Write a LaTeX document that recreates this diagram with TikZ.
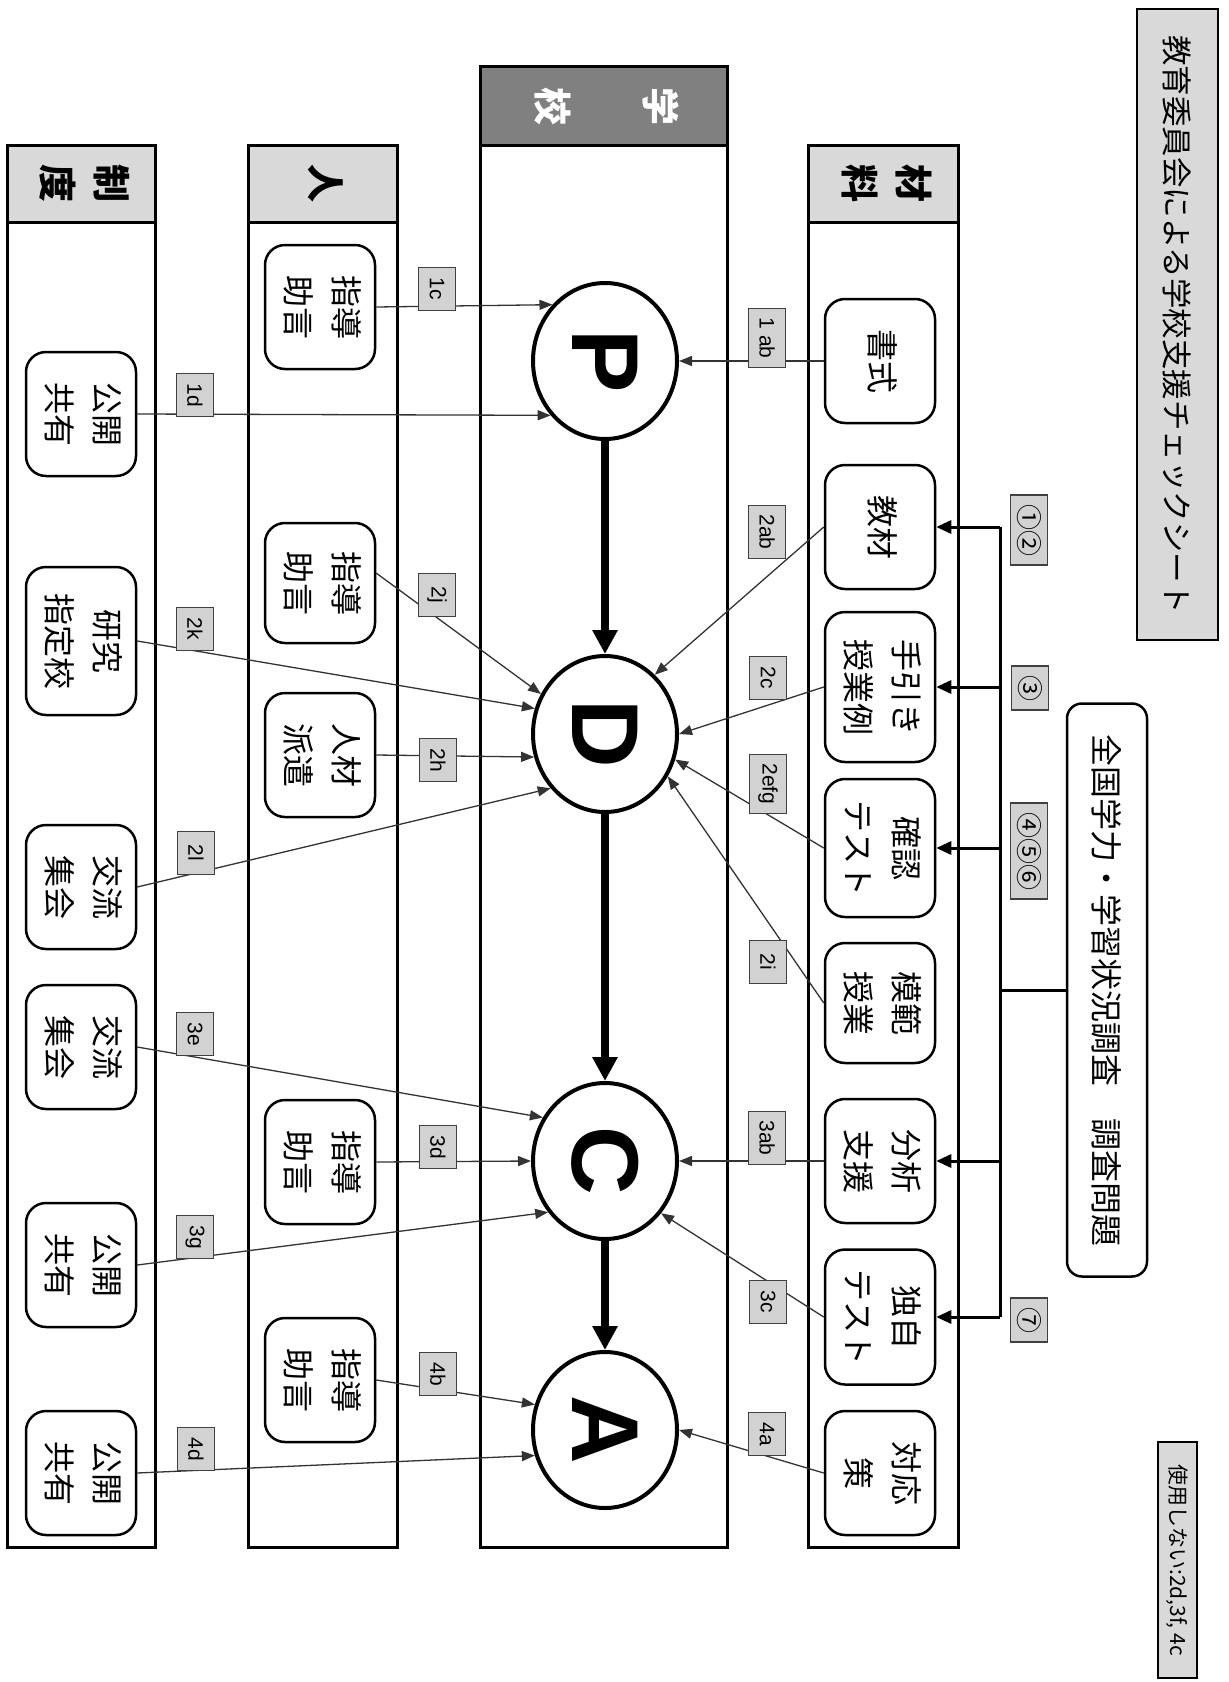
\documentclass[tikz,border=0pt]{standalone}
\usepackage{fontspec}
\usepackage{graphicx}
\usetikzlibrary{arrows.meta,shapes.geometric}
\newfontfamily\jp{Noto Sans CJK JP}
\newfontfamily\lat{Liberation Sans}
\newcommand{\vt}[1]{\rotatebox{-90}{\begin{tabular}{@{}c@{}}#1\end{tabular}}}
\definecolor{hdrgray}{RGB}{217,217,217}
\definecolor{darkhdr}{RGB}{128,128,128}
\definecolor{taggray}{RGB}{210,210,210}
\tikzset{
  lanebox/.style={draw=black, line width=3pt},
  hdrbox/.style={draw=black, line width=3pt, fill=hdrgray},
  hdrtext/.style={inner sep=0pt, font=\jp\bfseries\fontsize{38}{54}\selectfont},
  item/.style={draw=black, line width=2.5pt, rounded corners=20pt, fill=white,
    minimum width=110pt, minimum height=124pt, inner sep=0pt,
    font=\jp\fontsize{32}{48}\selectfont},
  phase/.style={ellipse, draw=black, line width=4pt, fill=white,
    minimum width=144pt, minimum height=156pt, inner sep=0pt,
    font=\lat\bfseries\fontsize{95}{95}\selectfont},
  tag/.style={draw=black!75, line width=1.2pt, fill=taggray,
    minimum width=37pt, minimum height=43pt, inner xsep=0pt, inner ysep=9pt,
    font=\lat\fontsize{21}{21}\selectfont},
  ctag/.style={draw=black!75, line width=1.2pt, fill=taggray,
    minimum width=37pt, minimum height=44pt, inner xsep=0pt, inner ysep=9pt,
    font=\jp\fontsize{26}{26}\selectfont},
  link/.style={draw=black!80, line width=1.3pt, -{Triangle[length=13pt,width=10pt]}},
  flow/.style={draw=black, line width=8pt, -{Triangle[length=24pt,width=24pt]}},
  bus/.style={draw=black, line width=3pt},
  busarrow/.style={draw=black, line width=3pt, -{Triangle[length=15pt,width=13pt]}},
}
\begin{document}
\begin{tikzpicture}[x=1pt,y=-1pt]
\useasboundingbox (0,0) rectangle (1229,1682);
\fill[white] (0,0) rectangle (1229,1682);

% lanes
\draw[lanebox] (7,145) rectangle (155,1547);
\draw[hdrbox] (7,145) rectangle (155,222);
\node[hdrtext] (hsys) at (81,183) {\vt{制\\度}};

\draw[lanebox] (248,145) rectangle (397,1547);
\draw[hdrbox] (248,145) rectangle (397,222);
\node[hdrtext] (hppl) at (322,183) {\vt{人}};

\draw[lanebox] (480,66) rectangle (727,1547);
\draw[hdrbox, fill=darkhdr] (480,66) rectangle (727,145);
\node[hdrtext, text=white] (hsch) at (603,106) {\vt{学\\ \\校}};

\draw[lanebox] (808,145) rectangle (958,1547);
\draw[hdrbox] (808,145) rectangle (958,222);
\node[hdrtext] (hmat) at (883,183) {\vt{材\\料}};

% title and note
\node[draw=black, line width=2pt, fill=hdrgray, minimum width=81pt, minimum height=631pt,
  inner sep=0pt, font=\jp\fontsize{30.5}{30.5}\selectfont] (title) at (1177.5,324.5)
  {\rotatebox{-90}{教育委員会による学校支援チェックシート}};
\node[draw=black, line width=2pt, fill=hdrgray, minimum width=39pt, minimum height=236pt,
  inner sep=0pt, font=\jp\fontsize{21}{21}\selectfont] (unused) at (1177.5,1560)
  {\rotatebox{-90}{使用しない:2d,3f, 4c}};

% PDCA
\node[phase] (P) at (605,361) {\rotatebox{-90}{P}};
\node[phase] (D) at (605,734) {\rotatebox{-90}{D}};
\node[phase] (C) at (605,1161) {\rotatebox{-90}{C}};
\node[phase] (A) at (605,1430) {\rotatebox{-90}{A}};
\draw[flow] (P.south) -- (D.north);
\draw[flow] (D.south) -- (C.north);
\draw[flow] (C.south) -- (A.north);

% materials
\node[item] (m1ab) at (880,361) {\vt{書式}};
\node[item] (m2ab) at (880,527) {\vt{教材}};
\node[item, minimum height=150pt] (m2c) at (880,687) {\vt{手引き\\授業例}};
\node[item, minimum height=138pt] (m2efg) at (880,848) {\vt{確認\\テスト}};
\node[item, minimum height=120pt] (m2i) at (880,1003) {\vt{模範\\授業}};
\node[item] (m3ab) at (880,1161) {\vt{分析\\支援}};
\node[item, minimum height=135pt] (m3c) at (880,1317) {\vt{独自\\テスト}};
\node[item] (m4a) at (880,1473) {\vt{対応\\策}};

% people
\node[item] (p1c) at (320,307) {\vt{指導\\助言}};
\node[item, minimum height=120pt] (p2j) at (320,583) {\vt{指導\\助言}};
\node[item] (p2h) at (320,755) {\vt{人材\\派遣}};
\node[item] (p3d) at (320,1162) {\vt{指導\\助言}};
\node[item] (p4b) at (320,1380) {\vt{指導\\助言}};

% system
\node[item] (s1d) at (81,414) {\vt{公開\\共有}};
\node[item, minimum height=148pt] (s2k) at (81,641) {\vt{研究\\指定校}};
\node[item] (s2l) at (81,887) {\vt{交流\\集会}};
\node[item] (s3e) at (81,1047) {\vt{交流\\集会}};
\node[item] (s3g) at (81,1265) {\vt{公開\\共有}};
\node[item] (s4d) at (81,1473) {\vt{公開\\共有}};

% survey
\node[draw=black, line width=2.5pt, rounded corners=15pt, fill=white,
  minimum width=80pt, minimum height=573pt, inner sep=0pt,
  font=\jp\fontsize{32}{32}\selectfont] (zk) at (1107,990)
  {\rotatebox{-90}{全国学力・学習状況調査　調査問題}};
\coordinate (bx) at (1000,0);
\draw[bus] (m2ab.east -| bx) -- (m3c.east -| bx);
\draw[bus] (zk.west -| bx) -- (zk.west);
\draw[busarrow] (m2ab.east -| bx) -- (m2ab.east);
\draw[busarrow] (m2c.east -| bx) -- (m2c.east);
\draw[busarrow] (m2efg.east -| bx) -- (m2efg.east);
\draw[busarrow] (m3ab.east -| bx) -- (m3ab.east);
\draw[busarrow] (m3c.east -| bx) -- (m3c.east);
\node[ctag] (c12) at (1029,530) {\rotatebox{-90}{①②}};
\node[ctag] (c3) at (1030,688) {\rotatebox{-90}{③}};
\node[ctag] (c456) at (1029,851) {\rotatebox{-90}{④⑤⑥}};
\node[ctag] (c7) at (1029,1320) {\rotatebox{-90}{⑦}};

% connectors
\draw[link] (m1ab.west) -- (P.east);
\draw[link] (p1c.east) -- (P.133);
\draw[link] (s1d.east) -- (P.225);
\draw[link] (m2ab.west) -- (D.50);
\draw[link] (m2c.west) -- (D.east);
\draw[link] (m2efg.west) -- (D.340);
\draw[link] (m2i.west) -- (D.326);
\draw[link] (p2j.10) -- (D.148);
\draw[link] (s2k.east) -- (D.160);
\draw[link] (p2h.east) -- (D.198);
\draw[link] (s2l.east) -- (D.225);
\draw[link] (s3e.east) -- (C.145);
\draw[link] (p3d.east) -- (C.west);
\draw[link] (s3g.east) -- (C.222);
\draw[link] (m3ab.west) -- (C.east);
\draw[link] (m3c.west) -- (C.317);
\draw[link] (p4b.east) -- (A.160);
\draw[link] (s4d.east) -- (A.200);
\draw[link] (m4a.west) -- (A.east);

% tags
\node[tag] (l1ab) at (767,338) {\rotatebox{-90}{1 ab}};
\node[tag] (l1c) at (437,289) {\rotatebox{-90}{1c}};
\node[tag] (l1d) at (195,395) {\rotatebox{-90}{1d}};
\node[tag] (l2ab) at (767,532) {\rotatebox{-90}{2ab}};
\node[tag] (l2c) at (768,678) {\rotatebox{-90}{2c}};
\node[tag] (l2efg) at (768,784) {\rotatebox{-90}{2efg}};
\node[tag] (l2i) at (768,962) {\rotatebox{-90}{2i}};
\node[tag] (l2j) at (437,595) {\rotatebox{-90}{2j}};
\node[tag] (l2k) at (195,629) {\rotatebox{-90}{2k}};
\node[tag] (l2h) at (438,760) {\rotatebox{-90}{2h}};
\node[tag] (l2l) at (196,853) {\rotatebox{-90}{2l}};
\node[tag] (l3e) at (195,1034) {\rotatebox{-90}{3e}};
\node[tag] (l3d) at (438,1147) {\rotatebox{-90}{3d}};
\node[tag] (l3g) at (195,1237) {\rotatebox{-90}{3g}};
\node[tag] (l3ab) at (767,1138) {\rotatebox{-90}{3ab}};
\node[tag] (l3c) at (768,1302) {\rotatebox{-90}{3c}};
\node[tag] (l4b) at (438,1374) {\rotatebox{-90}{4b}};
\node[tag] (l4d) at (196,1449) {\rotatebox{-90}{4d}};
\node[tag] (l4a) at (767,1434) {\rotatebox{-90}{4a}};
\end{tikzpicture}
\end{document}
